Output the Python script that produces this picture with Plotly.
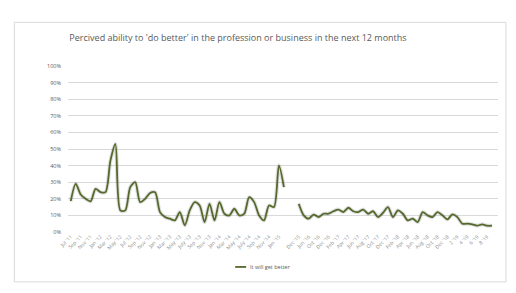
import plotly.graph_objects as go

# ---- data ----
values_a = [18.6, 29, 22.6, 20, 18.5, 26, 24, 24, 43, 53,
            13, 13, 27, 30, 18, 20, 23.5, 24, 12, 9,
            8, 7, 12, 4, 13, 18, 16, 6, 17, 7,
            18, 11, 10, 14, 10, 11, 21, 18, 10, 7,
            16, 15, 40, 27]
gap = [None, None]
values_b = [17, 10, 8, 10.5, 9, 11, 11, 12.5, 13.5, 12,
            14.6, 12.5, 12, 13.5, 11, 12.5, 9, 11.6, 15, 9,
            13, 11, 7, 8, 6, 12, 10, 9, 12, 10,
            7.6, 10.6, 9, 5, 5, 4.6, 3.8, 4.6, 3.8, 3.8]
values = [v / 100 if v is not None else None for v in values_a + gap + values_b]
x_idx = list(range(len(values)))

tick_labels_a = ["Jul '11", "Sep '11", "Nov '11", "Jan '12", "Mar '12", "May '12",
                 "Jul '12", "Sep '12", "Nov '12", "Jan '13", "Mar '13", "May '13",
                 "July '13", "Sep '13", "Nov '13", "Jan '14", "Mar '14", "May '14",
                 "July '14", "Sep '14", "Nov '14", "Jan '15"]
tick_labels_b = ["Dec '15", "Jun '16", "Oct '16", "Dec '16", "Feb '17", "Apr '17",
                 "Jun '17", "Aug '17", "Oct '17", "Dec '17", "Feb '18", "Apr '18",
                 "Jun '18", "Aug '18", "Oct '18", "Dec '18", "2 '19", "4 '19",
                 "6 '19", "8 '19"]
tick_pos = list(range(0, 43, 2)) + list(range(len(values_a) + len(gap), len(values), 2))
tick_text = tick_labels_a + tick_labels_b

series_name = "It will get better"
title_text = "Percived ability to 'do better' in the profession or business in the next 12 months"

FONT = "Open Sans"
LINE_COLOR = "#55692b"
W, H = 516, 293
L, R, T, B = 67.7, 498.0, 65.7, 232.0

fig = go.Figure()
# soft shadow under the line
fig.add_trace(go.Scatter(x=x_idx, y=values, mode="lines", showlegend=False,
                         hoverinfo="skip",
                         line=dict(color="rgba(0,0,0,0.12)", width=4, shape="spline", smoothing=0.8)))
fig.add_trace(go.Scatter(x=x_idx, y=values, mode="lines", name=series_name, showlegend=False,
                         line=dict(color=LINE_COLOR, width=1.8, shape="spline", smoothing=0.8)))

pw = R - L
ph = B - T
def px_x(p):
    return (p - L) / pw
def px_y(p):
    return (B - p) / ph

fig.update_layout(
    width=W, height=H,
    margin=dict(l=L, r=W - R, t=T, b=H - B, pad=0),
    paper_bgcolor="white", plot_bgcolor="white",
    font=dict(family=FONT, color="#595959", size=6),
    title=dict(text=title_text, xref="container", yref="container",
               x=238 / W, y=1 - 38 / H, xanchor="center", yanchor="middle",
               font=dict(family=FONT, size=9, color="#595959")),
    xaxis=dict(range=[-0.56, 86.2], tickmode="array", tickvals=tick_pos, ticktext=tick_text,
               tickangle=-45, tickfont=dict(size=5, color="#8c8c8c"), showgrid=False,
               zeroline=False, showline=False, ticks=""),
    yaxis=dict(range=[0, 1], dtick=0.1, tickformat=".0%", tickfont=dict(size=5.5, color="#595959"),
               gridcolor="#d9d9d9", gridwidth=1, zeroline=False, showline=False, ticks="",
               ticklabelstandoff=6),
    showlegend=False,
    shapes=[dict(type="rect", xref="paper", yref="paper",
                 x0=px_x(14), x1=px_x(506), y0=px_y(282), y1=px_y(22),
                 line=dict(color="#d9d9d9", width=1), fillcolor="rgba(0,0,0,0)", layer="below"),
            # legend swatch
            dict(type="line", xref="paper", yref="paper",
                 x0=px_x(235), x1=px_x(246), y0=px_y(267), y1=px_y(267),
                 line=dict(color=LINE_COLOR, width=1.8))],
    annotations=[dict(text=series_name, xref="paper", yref="paper",
                      x=px_x(248), y=px_y(267), xanchor="left", yanchor="middle",
                      showarrow=False, font=dict(family=FONT, size=5.5, color="#595959"))],
)

fig.write_html("out.html")
